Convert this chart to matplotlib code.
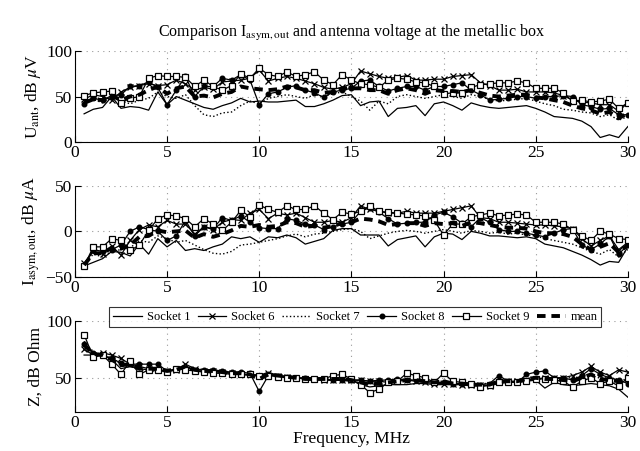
import numpy as np
import matplotlib
matplotlib.use('Agg')
import matplotlib.pyplot as plt

plt.rcParams['font.family'] = ['Liberation Serif', 'DejaVu Serif']
plt.rcParams['mathtext.fontset'] = 'stix'

# frequency axis, MHz
freq = np.arange(1, 61) * 0.5

# antenna voltage, dB uV
u_s1 = [31, 36, 38, 50, 37, 39, 38, 35, 55, 41, 50, 46, 42, 38, 36, 40, 43, 48, 44, 45,
        44, 44, 45, 46, 39, 39, 42, 46, 51, 52, 40, 44, 45, 28, 37, 38, 40, 29, 42, 44,
        40, 35, 43, 40, 38, 37, 38, 39, 40, 37, 33, 28, 27, 26, 23, 17, 5, 8, 5, 17]
u_s6 = [47, 52, 50, 46, 55, 60, 62, 64, 62, 63, 68, 64, 57, 60, 58, 66, 67, 68, 70, 79,
        67, 70, 72, 70, 67, 64, 60, 58, 60, 64, 78, 75, 72, 70, 71, 73, 68, 68, 69, 69,
        72, 73, 74, 65, 62, 57, 57, 58, 55, 55, 55, 54, 51, 46, 44, 43, 41, 41, 34, 43]
u_s7 = [45, 47, 43, 50, 45, 42, 46, 48, 55, 50, 48, 52, 40, 30, 28, 32, 33, 40, 45, 42,
        48, 50, 52, 50, 48, 52, 50, 53, 55, 50, 45, 35, 45, 42, 50, 52, 50, 48, 50, 52,
        50, 48, 52, 50, 47, 45, 46, 47, 48, 45, 42, 40, 36, 35, 33, 32, 28, 30, 24, 28]
u_s8 = [42, 48, 46, 51, 52, 61, 62, 66, 60, 41, 57, 72, 50, 61, 61, 70, 68, 74, 68, 41,
        53, 55, 60, 62, 57, 54, 49, 55, 57, 59, 67, 68, 61, 56, 59, 61, 61, 57, 61, 61,
        63, 65, 57, 52, 46, 47, 48, 50, 50, 48, 50, 50, 51, 50, 41, 39, 36, 37, 30, 30]
u_s9 = [51, 54, 55, 56, 43, 48, 50, 70, 73, 72, 72, 71, 61, 68, 61, 57, 62, 75, 70, 81,
        74, 72, 77, 72, 74, 77, 68, 63, 74, 68, 64, 63, 60, 68, 70, 69, 66, 65, 61, 53,
        54, 54, 60, 63, 64, 65, 65, 67, 65, 59, 59, 59, 54, 45, 46, 44, 45, 47, 37, 43]
u_mean = [43, 47, 46, 51, 46, 50, 52, 57, 61, 53, 59, 61, 50, 51, 49, 53, 55, 61, 59, 58,
          57, 58, 61, 60, 57, 57, 54, 55, 59, 59, 59, 57, 57, 53, 57, 59, 57, 53, 57, 56,
          56, 55, 57, 54, 51, 50, 51, 52, 52, 49, 48, 46, 44, 40, 37, 35, 31, 33, 26, 32]

# asymmetric current, dB uA
i_s1 = [-38, -34, -30, -22, -23, -27, -14, -25, -8, -17, -10, -21, -19, -21, -17, -14, -6, -8, -6, -12,
        -6, -7, -4, -7, -14, -11, -8, 1, 3, 3, -4, -4, -4, -16, -9, -7, -5, -17, -6, -2,
        -3, -9, 0, -2, -5, -5, -6, -7, -6, -8, -14, -16, -18, -22, -26, -31, -37, -33, -34, -17]
i_s6 = [-35, -22, -25, -16, -26, -10, 2, 7, 5, 12, 8, 8, -3, 5, 2, 10, 13, 12, 20, 24,
        14, 20, 18, 20, 15, 10, 10, 12, 10, 15, 28, 24, 22, 20, 20, 22, 20, 20, 20, 22,
        24, 26, 28, 15, 14, 10, 10, 9, 8, 7, 7, 6, 5, 3, -8, -16, -10, -5, -20, -12]
i_s7 = [-36, -25, -28, -22, -20, -18, -10, -12, -5, -8, -12, -10, -15, -20, -24, -25, -22, -15, -14, -12,
        -10, -8, -5, -3, -6, -3, -2, 0, 2, 3, 0, -8, -5, -2, 0, 1, 0, -2, 0, 2,
        0, -2, 1, 0, -2, -1, -3, -2, -4, -5, -8, -10, -12, -14, -18, -22, -25, -20, -28, -20]
i_s8 = [-38, -20, -22, -20, -15, 0, 5, 2, 0, -10, -5, 12, -5, 5, 3, 15, 12, 17, 10, 4,
        3, 3, 14, 12, 8, 7, 2, 5, 8, 10, 22, 26, 21, 14, 8, 9, 10, 10, 18, 21,
        16, 9, 5, 15, 10, 2, 0, 0, -2, -4, -6, -2, 2, 3, -15, -20, -14, -5, -25, -15]
i_s9 = [-38, -17, -17, -8, -10, -21, -15, 1, 14, 18, 17, 14, 5, 14, 8, 1, 10, 23, 16, 29,
        24, 21, 28, 24, 24, 28, 20, 13, 21, 19, 22, 28, 22, 21, 20, 19, 18, 17, 12, -4,
        8, 8, 16, 18, 20, 17, 18, 19, 18, 10, 10, 10, 8, 2, -5, -10, 0, -3, -8, -9]
i_mean = [-37, -24, -24, -18, -19, -15, -6, -5, 1, -1, 0, 1, -7, -3, -6, -3, 1, 6, 5, 7,
          5, 6, 10, 9, 5, 6, 4, 6, 9, 10, 14, 13, 11, 7, 8, 9, 9, 6, 9, 8,
          9, 6, 10, 9, 7, 5, 4, 4, 3, 0, -2, -2, -3, -6, -14, -20, -17, -13, -23, -15]

# impedance, dB Ohm
z_s1 = [70, 70, 70, 66, 58, 60, 58, 57, 57, 56, 57, 60, 57, 55, 55, 55, 54, 53, 52, 52,
        55, 52, 51, 50, 49, 49, 48, 48, 48, 48, 44, 42, 43, 44, 44, 44, 45, 45, 44, 44,
        44, 44, 43, 43, 43, 45, 46, 46, 47, 48, 41, 46, 44, 43, 44, 45, 44, 43, 40, 33]
z_s6 = [75, 70, 72, 70, 67, 62, 60, 58, 57, 56, 57, 62, 58, 56, 56, 55, 54, 53, 53, 52,
        54, 52, 51, 50, 49, 49, 48, 48, 48, 48, 48, 47, 47, 46, 47, 48, 47, 46, 45, 45,
        45, 44, 44, 44, 43, 46, 47, 47, 48, 49, 50, 50, 50, 52, 55, 60, 55, 52, 57, 55]
z_s7 = [82, 73, 70, 67, 62, 60, 57, 56, 56, 55, 57, 60, 58, 57, 56, 55, 54, 54, 53, 52,
        54, 52, 51, 50, 50, 49, 49, 49, 49, 48, 47, 45, 47, 48, 48, 48, 48, 47, 47, 47,
        46, 46, 45, 45, 45, 47, 47, 47, 48, 49, 49, 49, 50, 50, 51, 52, 50, 50, 49, 48]
z_s8 = [80, 72, 70, 67, 63, 62, 62, 62, 62, 56, 58, 59, 57, 57, 57, 56, 55, 55, 54, 38,
        52, 52, 51, 50, 50, 49, 49, 48, 48, 48, 48, 47, 48, 48, 49, 48, 48, 47, 46, 46,
        45, 45, 45, 44, 45, 52, 47, 46, 53, 55, 56, 50, 50, 48, 52, 58, 53, 50, 48, 45]
z_s9 = [88, 68, 70, 62, 53, 65, 53, 57, 57, 55, 58, 57, 56, 55, 54, 54, 53, 53, 53, 52,
        52, 51, 50, 50, 49, 49, 49, 52, 53, 49, 44, 37, 40, 46, 47, 54, 52, 50, 46, 54,
        47, 46, 45, 42, 44, 46, 46, 46, 47, 49, 49, 48, 47, 42, 47, 50, 45, 47, 43, 50]
z_mean = [79, 71, 70, 66, 61, 62, 58, 58, 58, 56, 57, 60, 57, 56, 56, 55, 54, 54, 53, 49,
          53, 52, 51, 50, 49, 49, 49, 49, 49, 48, 46, 44, 45, 46, 47, 48, 48, 47, 46, 47,
          45, 45, 44, 44, 44, 47, 47, 47, 49, 50, 49, 49, 48, 47, 50, 53, 49, 48, 47, 46]

labels = ['Socket 1', 'Socket 6', 'Socket 7', 'Socket 8', 'Socket 9', 'mean']

styles = [dict(ls='-', lw=0.9, marker=None),
          dict(ls='-', lw=0.9, marker='x', ms=3.8, mew=0.9),
          dict(ls=':', lw=1.0, marker=None),
          dict(ls='-', lw=0.9, marker='o', ms=3.3, mfc='k'),
          dict(ls='-', lw=0.9, marker='s', ms=4, mfc='white', mew=0.9),
          dict(ls='--', lw=2.8, marker=None, dashes=(2.2, 1.5))]

panels = [
    ([u_s1, u_s6, u_s7, u_s8, u_s9, u_mean], (0, 100), [0, 50, 100],
     r'U$_{\rm ant}$, dB $\mu$V'),
    ([i_s1, i_s6, i_s7, i_s8, i_s9, i_mean], (-50, 50), [-50, 0, 50],
     r'I$_{\rm asym,out}$, dB $\mu$A'),
    ([z_s1, z_s6, z_s7, z_s8, z_s9, z_mean], (20, 100), [50, 100],
     'Z, dB Ohm'),
]

fig = plt.figure(figsize=(6.4, 4.51), dpi=100)
left, width, height = 0.117, 0.864, 0.202
bottoms = [0.685, 0.386, 0.0865]

axes = []
for (series, ylim, yticks, ylabel), bot in zip(panels, bottoms):
    ax = fig.add_axes([left, bot, width, height])
    for vals, st in zip(series, styles):
        ax.plot(freq, vals, color='k', **st)
    ax.set_xlim(0, 30)
    ax.set_ylim(*ylim)
    ax.set_xticks([0, 5, 10, 15, 20, 25, 30])
    ax.set_yticks(yticks)
    ax.grid(True, ls=(0, (1, 4)), color='0.6', lw=0.8)
    ax.spines['top'].set_visible(False)
    ax.spines['right'].set_visible(False)
    ax.tick_params(direction='in', length=4, labelsize=12.5, pad=2)
    ax.set_ylabel(ylabel, fontsize=12.5, labelpad=2)
    axes.append(ax)

axes[0].set_title(r'Comparison I$_{\rm asym,out}$ and antenna voltage at the metallic box',
                  fontsize=11.5, pad=10)
axes[2].set_xlabel('Frequency, MHz', fontsize=12.5, labelpad=0)

handles = axes[2].get_lines()
leg = fig.legend(handles, labels, ncol=6, loc='center', bbox_to_anchor=(0.555, 0.297),
                 fontsize=9, frameon=True, fancybox=False, handlelength=2.3,
                 columnspacing=0.6, handletextpad=0.4, borderpad=0.3)
leg.get_frame().set_edgecolor('k')
leg.get_frame().set_linewidth(0.8)

fig.savefig('out.png', dpi=100)
